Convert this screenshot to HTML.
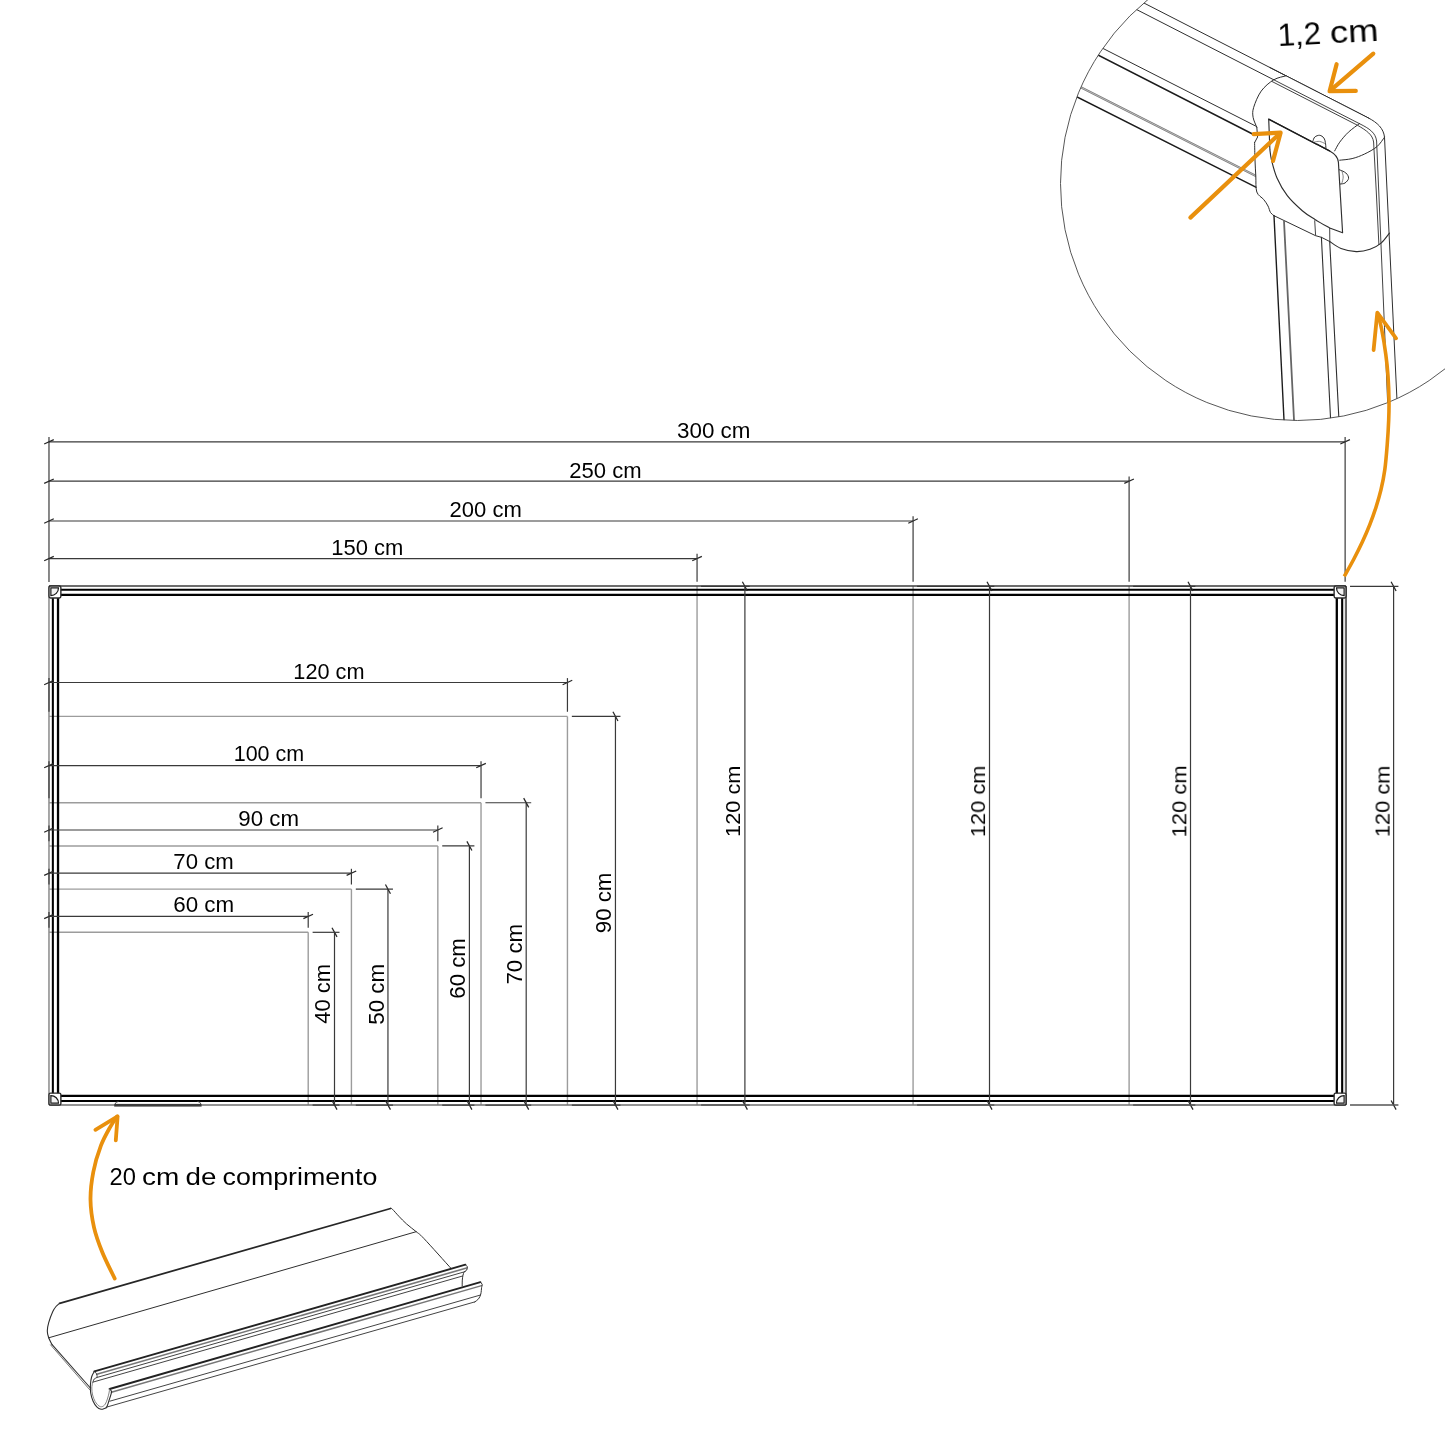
<!DOCTYPE html>
<html lang="pt">
<head>
<meta charset="utf-8">
<title>Quadro branco - dimensoes</title>
<style>
html,body{margin:0;padding:0;background:#fff;}
body{width:1445px;height:1445px;overflow:hidden;font-family:"Liberation Sans",sans-serif;}
svg{display:block;}
text{font-family:"Liberation Sans",sans-serif;}
</style>
</head>
<body>
<svg width="1445" height="1445" viewBox="0 0 1445 1445">
<rect width="1445" height="1445" fill="#fff"/>
<g id="lightlines" fill="none">
<line x1="48.98" y1="932.31" x2="308.21" y2="932.31" stroke="#9c9c9c" stroke-width="1.4" />
<line x1="308.21" y1="932.31" x2="308.21" y2="1105.05" stroke="#9c9c9c" stroke-width="1.4" />
<line x1="48.98" y1="889.12" x2="351.42" y2="889.12" stroke="#9c9c9c" stroke-width="1.4" />
<line x1="351.42" y1="889.12" x2="351.42" y2="1105.05" stroke="#9c9c9c" stroke-width="1.4" />
<line x1="48.98" y1="845.94" x2="437.83" y2="845.94" stroke="#9c9c9c" stroke-width="1.4" />
<line x1="437.83" y1="845.94" x2="437.83" y2="1105.05" stroke="#9c9c9c" stroke-width="1.4" />
<line x1="48.98" y1="802.75" x2="481.03" y2="802.75" stroke="#9c9c9c" stroke-width="1.4" />
<line x1="481.03" y1="802.75" x2="481.03" y2="1105.05" stroke="#9c9c9c" stroke-width="1.4" />
<line x1="48.98" y1="716.38" x2="567.44" y2="716.38" stroke="#9c9c9c" stroke-width="1.4" />
<line x1="567.44" y1="716.38" x2="567.44" y2="1105.05" stroke="#9c9c9c" stroke-width="1.4" />
<line x1="697.06" y1="586.04" x2="697.06" y2="1105.05" stroke="#9c9c9c" stroke-width="1.4" />
<line x1="913.08" y1="586.04" x2="913.08" y2="1105.05" stroke="#9c9c9c" stroke-width="1.4" />
<line x1="1129.11" y1="586.04" x2="1129.11" y2="1105.05" stroke="#9c9c9c" stroke-width="1.4" />
</g>
<g id="board" fill="none">
<line x1="48.98" y1="586.04" x2="48.98" y2="1105.05" stroke="#8a8a8a" stroke-width="1.5" />
<line x1="1344.15" y1="586.04" x2="1344.15" y2="1105.05" stroke="#e6e6e6" stroke-width="1.8" />
<line x1="1346.02" y1="586.04" x2="1346.02" y2="1105.05" stroke="#404040" stroke-width="1.6" />
<line x1="48.98" y1="586.04" x2="1346.02" y2="586.04" stroke="#3c3c3c" stroke-width="1.5" />
<line x1="48.98" y1="1105.05" x2="1346.02" y2="1105.05" stroke="#707070" stroke-width="1.5" />
<path d="M52.85 589.74 L1342.15 589.74 L1342.15 1101.08 L52.85 1101.08 Z" stroke="#000" stroke-width="2.05"/>
<path d="M58.03 594.83 L1336.8 594.83 L1336.8 1095.87 L58.03 1095.87 Z" stroke="#000" stroke-width="2.3"/>
<rect x="48.98" y="586.04" width="11.9" height="11.9" rx="1.6" fill="#fff" stroke="#2a2a2a" stroke-width="1.4"/>
<path d="M58.48 587.94 A7.6 7.6 0 0 1 50.88 595.54 L50.88 587.94 Z" fill="#f2f2f2" stroke="#1a1a1a" stroke-width="1.2"/>
<rect x="1334.12" y="586.04" width="11.9" height="11.9" rx="1.6" fill="#fff" stroke="#2a2a2a" stroke-width="1.4"/>
<path d="M1336.52 587.94 A7.6 7.6 0 0 0 1344.12 595.54 L1344.12 587.94 Z" fill="#f2f2f2" stroke="#1a1a1a" stroke-width="1.2"/>
<rect x="48.98" y="1093.15" width="11.9" height="11.9" rx="1.6" fill="#fff" stroke="#2a2a2a" stroke-width="1.4"/>
<path d="M58.48 1103.15 A7.6 7.6 0 0 0 50.88 1095.55 L50.88 1103.15 Z" fill="#f2f2f2" stroke="#1a1a1a" stroke-width="1.2"/>
<rect x="1334.12" y="1093.15" width="11.9" height="11.9" rx="1.6" fill="#fff" stroke="#2a2a2a" stroke-width="1.4"/>
<path d="M1336.52 1103.15 A7.6 7.6 0 0 1 1344.12 1095.55 L1344.12 1103.15 Z" fill="#f2f2f2" stroke="#1a1a1a" stroke-width="1.2"/>
</g>
<g id="tray">
<path d="M114.6 1105.6 L114.6 1103.6 Q115.4 1102.3 118.2 1102.2 L197.8 1102.2 Q200.6 1102.3 201.3 1103.6 L201.3 1105.6 Z" fill="#fff" stroke="none"/>
<path d="M114.9 1104.4 Q115.6 1101.6 118.6 1101.4" fill="none" stroke="#444" stroke-width="0.9"/>
<path d="M201.0 1104.4 Q200.3 1101.6 197.4 1101.4" fill="none" stroke="#444" stroke-width="0.9"/>
<rect x="114.2" y="1103.9" width="87.4" height="2.7" fill="#3c3c3c"/>
</g>
<g id="dims" fill="none">
<line x1="48.98" y1="437.00" x2="48.98" y2="582.00" stroke="#3a3a3a" stroke-width="1.2" />
<line x1="48.98" y1="441.80" x2="1345.13" y2="441.80" stroke="#3a3a3a" stroke-width="1.2" />
<line x1="44.18" y1="444.00" x2="53.78" y2="439.60" stroke="#262626" stroke-width="1.25" />
<line x1="1340.33" y1="444.00" x2="1349.93" y2="439.60" stroke="#262626" stroke-width="1.25" />
<line x1="1345.13" y1="437.00" x2="1345.13" y2="581.80" stroke="#3a3a3a" stroke-width="1.2" />
<line x1="48.98" y1="481.20" x2="1129.11" y2="481.20" stroke="#3a3a3a" stroke-width="1.2" />
<line x1="44.18" y1="483.40" x2="53.78" y2="479.00" stroke="#262626" stroke-width="1.25" />
<line x1="1124.31" y1="483.40" x2="1133.90" y2="479.00" stroke="#262626" stroke-width="1.25" />
<line x1="1129.11" y1="476.40" x2="1129.11" y2="581.80" stroke="#3a3a3a" stroke-width="1.2" />
<line x1="48.98" y1="521.00" x2="913.08" y2="521.00" stroke="#3a3a3a" stroke-width="1.2" />
<line x1="44.18" y1="523.20" x2="53.78" y2="518.80" stroke="#262626" stroke-width="1.25" />
<line x1="908.28" y1="523.20" x2="917.88" y2="518.80" stroke="#262626" stroke-width="1.25" />
<line x1="913.08" y1="516.20" x2="913.08" y2="581.80" stroke="#3a3a3a" stroke-width="1.2" />
<line x1="48.98" y1="558.60" x2="697.06" y2="558.60" stroke="#3a3a3a" stroke-width="1.2" />
<line x1="44.18" y1="560.80" x2="53.78" y2="556.40" stroke="#262626" stroke-width="1.25" />
<line x1="692.26" y1="560.80" x2="701.86" y2="556.40" stroke="#262626" stroke-width="1.25" />
<line x1="697.06" y1="553.80" x2="697.06" y2="581.80" stroke="#3a3a3a" stroke-width="1.2" />
<line x1="744.90" y1="586.04" x2="744.90" y2="1105.05" stroke="#3a3a3a" stroke-width="1.2" />
<line x1="742.40" y1="581.74" x2="747.40" y2="590.94" stroke="#262626" stroke-width="1.25" />
<line x1="742.40" y1="1100.45" x2="747.40" y2="1109.65" stroke="#262626" stroke-width="1.25" />
<line x1="701.06" y1="586.34" x2="749.70" y2="586.34" stroke="#3a3a3a" stroke-width="1.4" />
<line x1="701.06" y1="1105.05" x2="749.70" y2="1105.05" stroke="#555" stroke-width="1.4" />
<line x1="989.50" y1="586.04" x2="989.50" y2="1105.05" stroke="#3a3a3a" stroke-width="1.2" />
<line x1="987.00" y1="581.74" x2="992.00" y2="590.94" stroke="#262626" stroke-width="1.25" />
<line x1="987.00" y1="1100.45" x2="992.00" y2="1109.65" stroke="#262626" stroke-width="1.25" />
<line x1="917.08" y1="586.34" x2="994.30" y2="586.34" stroke="#3a3a3a" stroke-width="1.4" />
<line x1="917.08" y1="1105.05" x2="994.30" y2="1105.05" stroke="#555" stroke-width="1.4" />
<line x1="1190.50" y1="586.04" x2="1190.50" y2="1105.05" stroke="#3a3a3a" stroke-width="1.2" />
<line x1="1188.00" y1="581.74" x2="1193.00" y2="590.94" stroke="#262626" stroke-width="1.25" />
<line x1="1188.00" y1="1100.45" x2="1193.00" y2="1109.65" stroke="#262626" stroke-width="1.25" />
<line x1="1133.11" y1="586.34" x2="1195.30" y2="586.34" stroke="#3a3a3a" stroke-width="1.4" />
<line x1="1133.11" y1="1105.05" x2="1195.30" y2="1105.05" stroke="#555" stroke-width="1.4" />
<line x1="1393.60" y1="586.04" x2="1393.60" y2="1105.05" stroke="#3a3a3a" stroke-width="1.2" />
<line x1="1391.10" y1="581.74" x2="1396.10" y2="590.94" stroke="#262626" stroke-width="1.25" />
<line x1="1391.10" y1="1100.45" x2="1396.10" y2="1109.65" stroke="#262626" stroke-width="1.25" />
<line x1="1350.02" y1="586.34" x2="1398.40" y2="586.34" stroke="#3a3a3a" stroke-width="1.4" />
<line x1="1350.02" y1="1105.05" x2="1398.40" y2="1105.05" stroke="#555" stroke-width="1.4" />
<line x1="48.98" y1="682.50" x2="567.44" y2="682.50" stroke="#3a3a3a" stroke-width="1.2" />
<line x1="44.18" y1="684.70" x2="53.78" y2="680.30" stroke="#262626" stroke-width="1.25" />
<line x1="562.64" y1="684.70" x2="572.24" y2="680.30" stroke="#262626" stroke-width="1.25" />
<line x1="567.44" y1="678.10" x2="567.44" y2="711.78" stroke="#3a3a3a" stroke-width="1.2" />
<line x1="48.98" y1="678.10" x2="48.98" y2="711.78" stroke="#3a3a3a" stroke-width="1.2" />
<line x1="615.45" y1="716.38" x2="615.45" y2="1105.05" stroke="#3a3a3a" stroke-width="1.2" />
<line x1="612.95" y1="711.78" x2="617.95" y2="720.99" stroke="#262626" stroke-width="1.25" />
<line x1="612.95" y1="1100.45" x2="617.95" y2="1109.65" stroke="#262626" stroke-width="1.25" />
<line x1="571.84" y1="716.38" x2="620.45" y2="716.38" stroke="#3a3a3a" stroke-width="1.2" />
<line x1="571.84" y1="1105.05" x2="620.45" y2="1105.05" stroke="#3a3a3a" stroke-width="1.3" />
<line x1="48.98" y1="765.60" x2="481.03" y2="765.60" stroke="#3a3a3a" stroke-width="1.2" />
<line x1="44.18" y1="767.80" x2="53.78" y2="763.40" stroke="#262626" stroke-width="1.25" />
<line x1="476.23" y1="767.80" x2="485.83" y2="763.40" stroke="#262626" stroke-width="1.25" />
<line x1="481.03" y1="761.20" x2="481.03" y2="798.15" stroke="#3a3a3a" stroke-width="1.2" />
<line x1="48.98" y1="761.20" x2="48.98" y2="798.15" stroke="#3a3a3a" stroke-width="1.2" />
<line x1="526.20" y1="802.75" x2="526.20" y2="1105.05" stroke="#3a3a3a" stroke-width="1.2" />
<line x1="523.70" y1="798.15" x2="528.70" y2="807.35" stroke="#262626" stroke-width="1.25" />
<line x1="523.70" y1="1100.45" x2="528.70" y2="1109.65" stroke="#262626" stroke-width="1.25" />
<line x1="485.43" y1="802.75" x2="531.20" y2="802.75" stroke="#3a3a3a" stroke-width="1.2" />
<line x1="485.43" y1="1105.05" x2="531.20" y2="1105.05" stroke="#3a3a3a" stroke-width="1.3" />
<line x1="48.98" y1="830.00" x2="437.83" y2="830.00" stroke="#3a3a3a" stroke-width="1.2" />
<line x1="44.18" y1="832.20" x2="53.78" y2="827.80" stroke="#262626" stroke-width="1.25" />
<line x1="433.03" y1="832.20" x2="442.63" y2="827.80" stroke="#262626" stroke-width="1.25" />
<line x1="437.83" y1="825.60" x2="437.83" y2="841.34" stroke="#3a3a3a" stroke-width="1.2" />
<line x1="48.98" y1="825.60" x2="48.98" y2="841.34" stroke="#3a3a3a" stroke-width="1.2" />
<line x1="469.40" y1="845.94" x2="469.40" y2="1105.05" stroke="#3a3a3a" stroke-width="1.2" />
<line x1="466.90" y1="841.34" x2="471.90" y2="850.54" stroke="#262626" stroke-width="1.25" />
<line x1="466.90" y1="1100.45" x2="471.90" y2="1109.65" stroke="#262626" stroke-width="1.25" />
<line x1="442.23" y1="845.94" x2="474.40" y2="845.94" stroke="#3a3a3a" stroke-width="1.2" />
<line x1="442.23" y1="1105.05" x2="474.40" y2="1105.05" stroke="#3a3a3a" stroke-width="1.3" />
<line x1="48.98" y1="873.20" x2="351.42" y2="873.20" stroke="#3a3a3a" stroke-width="1.2" />
<line x1="44.18" y1="875.40" x2="53.78" y2="871.00" stroke="#262626" stroke-width="1.25" />
<line x1="346.62" y1="875.40" x2="356.22" y2="871.00" stroke="#262626" stroke-width="1.25" />
<line x1="351.42" y1="868.80" x2="351.42" y2="884.52" stroke="#3a3a3a" stroke-width="1.2" />
<line x1="48.98" y1="868.80" x2="48.98" y2="884.52" stroke="#3a3a3a" stroke-width="1.2" />
<line x1="387.95" y1="889.12" x2="387.95" y2="1105.05" stroke="#3a3a3a" stroke-width="1.2" />
<line x1="385.45" y1="884.52" x2="390.45" y2="893.73" stroke="#262626" stroke-width="1.25" />
<line x1="385.45" y1="1100.45" x2="390.45" y2="1109.65" stroke="#262626" stroke-width="1.25" />
<line x1="355.81" y1="889.12" x2="392.95" y2="889.12" stroke="#3a3a3a" stroke-width="1.2" />
<line x1="355.81" y1="1105.05" x2="392.95" y2="1105.05" stroke="#3a3a3a" stroke-width="1.3" />
<line x1="48.98" y1="916.40" x2="308.21" y2="916.40" stroke="#3a3a3a" stroke-width="1.2" />
<line x1="44.18" y1="918.60" x2="53.78" y2="914.20" stroke="#262626" stroke-width="1.25" />
<line x1="303.41" y1="918.60" x2="313.01" y2="914.20" stroke="#262626" stroke-width="1.25" />
<line x1="308.21" y1="912.00" x2="308.21" y2="927.71" stroke="#3a3a3a" stroke-width="1.2" />
<line x1="48.98" y1="912.00" x2="48.98" y2="927.71" stroke="#3a3a3a" stroke-width="1.2" />
<line x1="334.50" y1="932.31" x2="334.50" y2="1105.05" stroke="#3a3a3a" stroke-width="1.2" />
<line x1="332.00" y1="927.71" x2="337.00" y2="936.91" stroke="#262626" stroke-width="1.25" />
<line x1="332.00" y1="1100.45" x2="337.00" y2="1109.65" stroke="#262626" stroke-width="1.25" />
<line x1="312.61" y1="932.31" x2="339.50" y2="932.31" stroke="#3a3a3a" stroke-width="1.2" />
<line x1="312.61" y1="1105.05" x2="339.50" y2="1105.05" stroke="#3a3a3a" stroke-width="1.3" />
</g>
<g id="texts" opacity="0.999" font-family="Liberation Sans, sans-serif">
<text x="677.05" y="437.60" font-size="22" fill="#000" text-anchor="start" textLength="73.4" lengthAdjust="spacingAndGlyphs">300 cm</text>
<text x="569.24" y="477.50" font-size="22" fill="#000" text-anchor="start" textLength="72.4" lengthAdjust="spacingAndGlyphs">250 cm</text>
<text x="449.49" y="517.30" font-size="22" fill="#000" text-anchor="start" textLength="72.3" lengthAdjust="spacingAndGlyphs">200 cm</text>
<text x="331.31" y="554.50" font-size="22" fill="#000" text-anchor="start" textLength="72.1" lengthAdjust="spacingAndGlyphs">150 cm</text>
<text x="293.35" y="678.60" font-size="22" fill="#000" text-anchor="start" textLength="71.2" lengthAdjust="spacingAndGlyphs">120 cm</text>
<text x="233.68" y="761.30" font-size="22" fill="#000" text-anchor="start" textLength="70.5" lengthAdjust="spacingAndGlyphs">100 cm</text>
<text x="238.27" y="825.50" font-size="22" fill="#000" text-anchor="start" textLength="60.7" lengthAdjust="spacingAndGlyphs">90 cm</text>
<text x="173.34" y="868.70" font-size="22" fill="#000" text-anchor="start" textLength="60.4" lengthAdjust="spacingAndGlyphs">70 cm</text>
<text x="173.24" y="911.90" font-size="22" fill="#000" text-anchor="start" textLength="61.0" lengthAdjust="spacingAndGlyphs">60 cm</text>
<text x="330.30" y="1023.82" font-size="22" fill="#000" text-anchor="start" textLength="59.9" lengthAdjust="spacingAndGlyphs" transform="rotate(-90 330.30 1023.82)">40 cm</text>
<text x="384.10" y="1024.79" font-size="22" fill="#000" text-anchor="start" textLength="60.9" lengthAdjust="spacingAndGlyphs" transform="rotate(-90 384.10 1024.79)">50 cm</text>
<text x="465.50" y="998.64" font-size="22" fill="#000" text-anchor="start" textLength="60.5" lengthAdjust="spacingAndGlyphs" transform="rotate(-90 465.50 998.64)">60 cm</text>
<text x="521.90" y="984.59" font-size="22" fill="#000" text-anchor="start" textLength="60.7" lengthAdjust="spacingAndGlyphs" transform="rotate(-90 521.90 984.59)">70 cm</text>
<text x="611.10" y="933.20" font-size="22" fill="#000" text-anchor="start" textLength="60.6" lengthAdjust="spacingAndGlyphs" transform="rotate(-90 611.10 933.20)">90 cm</text>
<text x="740.50" y="836.88" font-size="20" fill="#000" text-anchor="start" textLength="71.3" lengthAdjust="spacingAndGlyphs" transform="rotate(-90 740.50 836.88)">120 cm</text>
<text x="985.20" y="837.15" font-size="20" fill="#000" text-anchor="start" textLength="71.6" lengthAdjust="spacingAndGlyphs" transform="rotate(-90 985.20 837.15)">120 cm</text>
<text x="1186.60" y="837.28" font-size="20" fill="#000" text-anchor="start" textLength="71.8" lengthAdjust="spacingAndGlyphs" transform="rotate(-90 1186.60 837.28)">120 cm</text>
<text x="1389.70" y="837.14" font-size="20" fill="#000" text-anchor="start" textLength="71.6" lengthAdjust="spacingAndGlyphs" transform="rotate(-90 1389.70 837.14)">120 cm</text>
<text x="109.62" y="1185.10" font-size="23" fill="#000" text-anchor="start" textLength="26.4" lengthAdjust="spacingAndGlyphs">20</text>
<text x="142.05" y="1185.10" font-size="23" fill="#000" text-anchor="start" textLength="37.3" lengthAdjust="spacingAndGlyphs">cm</text>
<text x="185.50" y="1185.10" font-size="23" fill="#000" text-anchor="start" textLength="30.9" lengthAdjust="spacingAndGlyphs">de</text>
<text x="222.64" y="1185.10" font-size="23" fill="#000" text-anchor="start" textLength="154.7" lengthAdjust="spacingAndGlyphs">comprimento</text>
<g transform="rotate(-3 1280 46.3)" font-size="31" fill="#000"><text x="1278.2" y="46.3" textLength="43.5" lengthAdjust="spacingAndGlyphs">1,2</text><text x="1330.6" y="46.3" textLength="48.6" lengthAdjust="spacingAndGlyphs">cm</text></g>
</g>
<clipPath id="cc"><circle cx="1297.5" cy="183.5" r="237.0"/></clipPath>
<g id="detail" clip-path="url(#cc)" stroke-linecap="round" stroke-linejoin="round">
<line x1="1080.00" y1="-29.71" x2="1368.30" y2="117.90" stroke="#2e2e2e" stroke-width="1.0"/>
<line x1="1080.00" y1="-19.42" x2="1273.60" y2="79.70" stroke="#2e2e2e" stroke-width="1.0"/>
<line x1="1060.00" y1="26.60" x2="1256.00" y2="126.20" stroke="#2e2e2e" stroke-width="1.0"/>
<line x1="1060.00" y1="35.68" x2="1253.50" y2="134.50" stroke="#1c1c1c" stroke-width="1.5"/>
<line x1="1050.00" y1="71.71" x2="1256.00" y2="176.00" stroke="#777" stroke-width="2.2"/>
<line x1="1050.00" y1="71.71" x2="1256.00" y2="176.00" stroke="#fff" stroke-width="0.5"/>
<line x1="1050.00" y1="83.38" x2="1256.80" y2="187.70" stroke="#1c1c1c" stroke-width="1.45"/>
<path d="M1286.10 75.80 L1273.60 79.90 L1261.20 91.10 L1253.70 107.30 L1253.10 117.30 L1256.80 127.20 L1257.60 137.00 L1254.60 142.60 L1255.00 160.00 L1255.80 176.00 L1256.80 192.00 L1263.70 199.50 L1268.00 206.00 L1270.50 212.50 L1274.00 215.70 L1315.60 235.70 L1321.40 237.30 L1329.70 241.50 L1341.00 248.50 L1356.20 251.60 L1370.00 249.30 L1381.10 243.10 L1389.40 233.20 L1384.50 137.20 L1380.00 124.50 L1368.30 117.90 Z" fill="#fff" stroke="none"/>
<path d="M1286.10 75.80 C1284.02 76.48 1277.75 77.35 1273.60 79.90 C1269.45 82.45 1264.52 86.53 1261.20 91.10 C1257.88 95.67 1255.05 102.93 1253.70 107.30 C1252.35 111.67 1252.58 113.98 1253.10 117.30 C1253.62 120.62 1256.18 125.55 1256.80 127.20" fill="none" stroke="#2e2e2e" stroke-width="1.0" />
<path d="M1256.80 127.20 L1257.60 137.00 L1254.60 142.60" fill="none" stroke="#2e2e2e" stroke-width="1.0" />
<path d="M1254.60 142.60 C1254.67 145.50 1254.80 154.43 1255.00 160.00 C1255.20 165.57 1255.50 170.67 1255.80 176.00 C1256.10 181.33 1255.48 188.08 1256.80 192.00 C1258.12 195.92 1261.83 197.17 1263.70 199.50 C1265.57 201.83 1266.87 203.83 1268.00 206.00 C1269.13 208.17 1269.50 210.88 1270.50 212.50 C1271.50 214.12 1273.42 215.17 1274.00 215.70" fill="none" stroke="#2e2e2e" stroke-width="1.0" />
<path d="M1274.00 215.70 L1315.60 235.70 L1321.40 237.30 L1329.70 241.50" fill="none" stroke="#2e2e2e" stroke-width="1.0" />
<path d="M1329.70 241.50 C1331.58 242.67 1336.58 246.82 1341.00 248.50 C1345.42 250.18 1351.37 251.47 1356.20 251.60 C1361.03 251.73 1365.85 250.72 1370.00 249.30 C1374.15 247.88 1377.87 245.78 1381.10 243.10 C1384.33 240.42 1388.02 234.85 1389.40 233.20" fill="none" stroke="#2e2e2e" stroke-width="1.1" />
<path d="M1368.3 117.9 C1377.5 122.6 1383.6 128.5 1384.5 137.2 L1387.0 190.0 L1400.3 470.0" fill="none" stroke="#2e2e2e" stroke-width="1.0" />
<path d="M1273.6 79.70 L1359.6 123.74 C1369.5 128.6 1375.6 132.8 1376.6 141.0 L1378.7 190.0 L1384.5 327.8 L1389.5 447.0" fill="none" stroke="#2e2e2e" stroke-width="0.9" />
<path d="M1272.0 81.48 L1357.6 125.31 C1366.6 130.6 1372.6 134.6 1373.6 142.0 L1376.2 190.0 L1378.9 244.6" fill="none" stroke="#2e2e2e" stroke-width="0.9" />
<line x1="1270.00" y1="67.57" x2="1368.30" y2="117.90" stroke="#2e2e2e" stroke-width="1.0"/>
<path d="M1359.60 123.50 C1357.73 124.95 1351.72 129.08 1348.40 132.20 C1345.08 135.32 1341.98 139.08 1339.70 142.20 C1337.42 145.32 1335.53 149.45 1334.70 150.90" fill="none" stroke="#2e2e2e" stroke-width="1.0" />
<path d="M1339.70 160.20 C1341.77 159.93 1347.95 159.63 1352.10 158.60 C1356.25 157.57 1360.45 156.00 1364.60 154.00 C1368.75 152.00 1373.68 149.40 1377.00 146.60 C1380.32 143.80 1383.25 138.77 1384.50 137.20" fill="none" stroke="#2e2e2e" stroke-width="1.0" />
<path d="M1312.90 141.20 C1313.22 140.50 1313.67 137.98 1314.80 137.00 C1315.93 136.02 1318.18 135.13 1319.70 135.30 C1321.22 135.47 1322.95 136.78 1323.90 138.00 C1324.85 139.22 1325.07 140.97 1325.40 142.60 C1325.73 144.23 1325.82 146.93 1325.90 147.80" fill="none" stroke="#2e2e2e" stroke-width="1.0" />
<path d="M1314.60 142.00 C1315.42 141.90 1317.73 141.13 1319.50 141.40 C1321.27 141.67 1324.25 143.23 1325.20 143.60" fill="none" stroke="#666" stroke-width="0.8" />
<path d="M1339.00 169.60 C1340.15 170.17 1344.30 171.55 1345.90 173.00 C1347.50 174.45 1348.75 176.63 1348.60 178.30 C1348.45 179.97 1346.38 182.05 1345.00 183.00 C1343.62 183.95 1341.08 183.83 1340.30 184.00" fill="none" stroke="#2e2e2e" stroke-width="1.0" />
<path d="M1341.80 170.60 C1342.03 171.67 1343.20 174.83 1343.20 177.00 C1343.20 179.17 1342.03 182.50 1341.80 183.60" fill="none" stroke="#666" stroke-width="0.8" />
<path d="M1268.7 119.1 L1329.7 150.9 C1335.0 153.8 1338.0 157.0 1338.4 162.1 L1342.6 232.8 L1329.7 228.0 C1327.25 226.58 1319.57 222.38 1315.00 219.50 C1310.43 216.62 1306.92 214.67 1302.30 210.70 C1297.68 206.73 1291.52 201.15 1287.30 195.70 C1283.08 190.25 1279.63 183.95 1277.00 178.00 C1274.37 172.05 1272.68 164.72 1271.50 160.00 C1270.32 155.28 1270.17 151.42 1269.90 149.70 Z" fill="#fff" stroke="#2e2e2e" stroke-width="1.15"/>
<line x1="1268.90" y1="119.30" x2="1329.50" y2="150.90" stroke="#1c1c1c" stroke-width="1.35"/>
<line x1="1274.00" y1="215.70" x2="1284.98" y2="440.00" stroke="#1c1c1c" stroke-width="1.4"/>
<line x1="1284.00" y1="221.00" x2="1295.01" y2="440.00" stroke="#666" stroke-width="1.8"/>
<line x1="1321.40" y1="237.30" x2="1331.64" y2="440.00" stroke="#2e2e2e" stroke-width="1.1"/>
<line x1="1329.70" y1="241.50" x2="1340.01" y2="440.00" stroke="#2e2e2e" stroke-width="1.1"/>
<line x1="1314.70" y1="220.70" x2="1315.60" y2="235.20" stroke="#2e2e2e" stroke-width="0.9"/>
<line x1="1329.70" y1="228.20" x2="1329.80" y2="241.00" stroke="#2e2e2e" stroke-width="0.9"/>
</g>
<circle cx="1297.5" cy="183.5" r="237.0" fill="none" stroke="#444" stroke-width="0.9"/>
<g id="trayill" stroke-linecap="round" stroke-linejoin="round">
<line x1="59.60" y1="1303.30" x2="390.60" y2="1208.50" stroke="#262626" stroke-width="1.75"/>
<path d="M59.60 1303.30 C59.00 1303.83 57.13 1305.13 56.00 1306.50 C54.87 1307.87 54.02 1308.82 52.80 1311.50 C51.58 1314.18 49.62 1319.37 48.70 1322.60 C47.78 1325.83 47.30 1328.37 47.30 1330.90 C47.30 1333.43 47.90 1335.50 48.70 1337.80 C49.50 1340.10 51.53 1343.55 52.10 1344.70" fill="none" stroke="#2e2e2e" stroke-width="1.1" />
<line x1="52.10" y1="1344.70" x2="90.40" y2="1388.00" stroke="#333" stroke-width="1.1"/>
<line x1="50.60" y1="1344.90" x2="89.60" y2="1389.60" stroke="#666" stroke-width="0.9"/>
<line x1="48.70" y1="1337.80" x2="416.20" y2="1231.70" stroke="#2e2e2e" stroke-width="1.0"/>
<path d="M390.60 1208.50 C390.90 1208.62 391.03 1207.92 392.40 1209.20 C393.77 1210.48 396.45 1213.75 398.80 1216.20 C401.15 1218.65 403.60 1221.32 406.50 1223.90 C409.40 1226.48 413.28 1229.25 416.20 1231.70 C419.12 1234.15 418.18 1232.47 424.00 1238.60 C429.82 1244.73 446.58 1263.52 451.10 1268.50" fill="none" stroke="#2e2e2e" stroke-width="1.0" />
<line x1="94.40" y1="1371.30" x2="465.40" y2="1264.70" stroke="#222" stroke-width="1.9"/>
<line x1="96.80" y1="1374.20" x2="466.60" y2="1268.00" stroke="#777" stroke-width="1.6"/>
<line x1="96.80" y1="1377.50" x2="465.20" y2="1271.60" stroke="#2e2e2e" stroke-width="0.9"/>
<line x1="93.40" y1="1382.00" x2="462.60" y2="1276.00" stroke="#2e2e2e" stroke-width="0.9"/>
<path d="M465.40 1264.70 C465.72 1265.05 467.10 1265.88 467.30 1266.80 C467.50 1267.72 467.17 1269.28 466.60 1270.20 C466.03 1271.12 464.60 1270.83 463.90 1272.30 C463.20 1273.77 462.68 1276.72 462.40 1279.00 C462.12 1281.28 462.23 1284.83 462.20 1286.00" fill="none" stroke="#2e2e2e" stroke-width="1.0" />
<path d="M94.40 1371.30 C94.73 1371.68 95.97 1372.62 96.40 1373.60 C96.83 1374.58 97.37 1376.30 97.00 1377.20 C96.63 1378.10 94.90 1378.13 94.20 1379.00 C93.50 1379.87 93.03 1381.83 92.80 1382.40" fill="none" stroke="#2e2e2e" stroke-width="0.9" />
<line x1="109.60" y1="1389.00" x2="480.40" y2="1282.20" stroke="#222" stroke-width="1.9"/>
<line x1="111.40" y1="1392.20" x2="481.60" y2="1285.60" stroke="#777" stroke-width="1.5"/>
<line x1="109.80" y1="1401.20" x2="480.20" y2="1295.10" stroke="#2e2e2e" stroke-width="0.9"/>
<line x1="106.70" y1="1407.10" x2="474.80" y2="1301.90" stroke="#2e2e2e" stroke-width="0.9"/>
<path d="M480.40 1282.20 C480.70 1282.57 482.00 1283.52 482.20 1284.40 C482.40 1285.28 481.83 1285.90 481.60 1287.50 C481.37 1289.10 481.30 1292.12 480.80 1294.00 C480.30 1295.88 479.60 1297.48 478.60 1298.80 C477.60 1300.12 475.43 1301.38 474.80 1301.90" fill="none" stroke="#2e2e2e" stroke-width="1.0" />
<path d="M94.40 1371.30 C93.93 1372.25 92.27 1374.72 91.60 1377.00 C90.93 1379.28 90.55 1382.33 90.40 1385.00 C90.25 1387.67 90.27 1390.33 90.70 1393.00 C91.13 1395.67 91.98 1398.70 93.00 1401.00 C94.02 1403.30 95.45 1405.43 96.80 1406.80 C98.15 1408.17 99.83 1408.93 101.10 1409.20 C102.37 1409.47 103.47 1408.75 104.40 1408.40 C105.33 1408.05 105.95 1408.35 106.70 1407.10 C107.45 1405.85 108.15 1403.15 108.90 1400.90 C109.65 1398.65 110.77 1395.18 111.20 1393.60 C111.63 1392.02 111.77 1392.17 111.50 1391.40 C111.23 1390.63 109.92 1389.40 109.60 1389.00" fill="none" stroke="#2e2e2e" stroke-width="1.1" />
<path d="M92.60 1382.60 C92.47 1383.50 91.80 1385.93 91.80 1388.00 C91.80 1390.07 92.03 1392.73 92.60 1395.00 C93.17 1397.27 94.13 1399.77 95.20 1401.60 C96.27 1403.43 97.83 1405.17 99.00 1406.00 C100.17 1406.83 101.17 1406.90 102.20 1406.60 C103.23 1406.30 104.33 1405.47 105.20 1404.20 C106.07 1402.93 106.77 1400.87 107.40 1399.00 C108.03 1397.13 108.63 1394.67 109.00 1393.00 C109.37 1391.33 109.50 1389.67 109.60 1389.00" fill="none" stroke="#777" stroke-width="0.9" />
</g>
<g id="arrows" fill="none" stroke="#e9900d" stroke-linecap="round" stroke-linejoin="round">
<path d="M1373.3 53.7 L1330.2 90.6" stroke-width="4.2"/>
<path d="M1336.6 64.2 L1329.6 91.2 L1355.8 90.9" stroke-width="4.2" stroke-linejoin="round"/>
<path d="M1190.4 217.6 L1280.0 133.2" stroke-width="4.2"/>
<path d="M1253.7 134.1 L1280.6 132.7 L1273.0 160.9" stroke-width="4.2" stroke-linejoin="round"/>
<path d="M1344.30 576.30 C1345.85 573.50 1350.60 565.22 1353.60 559.50 C1356.60 553.78 1359.60 547.82 1362.30 542.00 C1365.00 536.18 1367.52 530.40 1369.80 524.60 C1372.08 518.80 1374.13 513.02 1376.00 507.20 C1377.87 501.38 1379.53 495.93 1381.00 489.70 C1382.47 483.47 1383.77 477.27 1384.80 469.80 C1385.83 462.33 1386.55 453.20 1387.20 444.90 C1387.85 436.60 1388.40 427.48 1388.70 420.00 C1389.00 412.52 1389.12 407.37 1389.00 400.00 C1388.88 392.63 1388.53 383.40 1388.00 375.80 C1387.47 368.20 1386.85 362.12 1385.80 354.40 C1384.75 346.68 1383.07 336.40 1381.70 329.50 C1380.33 322.60 1378.28 315.75 1377.60 313.00" stroke-width="3.6" stroke-linecap="butt"/>
<path d="M1373.6 350.0 L1377.3 312.6 L1396.1 338.3" stroke-width="3.8" stroke-linejoin="round"/>
<path d="M114.70 1278.50 C112.63 1274.12 105.75 1260.73 102.30 1252.20 C98.85 1243.67 95.97 1236.05 94.00 1227.30 C92.03 1218.55 90.62 1208.92 90.50 1199.70 C90.38 1190.48 91.57 1181.00 93.30 1172.00 C95.03 1163.00 98.02 1153.32 100.90 1145.70 C103.78 1138.08 107.88 1131.18 110.60 1126.30 C113.32 1121.42 116.10 1118.05 117.20 1116.40" stroke-width="3.8"/>
<path d="M95.4 1129.8 L117.6 1116.4 L115.8 1140.4" stroke-width="3.8" stroke-linejoin="round"/>
</g>
</svg>
</body>
</html>
